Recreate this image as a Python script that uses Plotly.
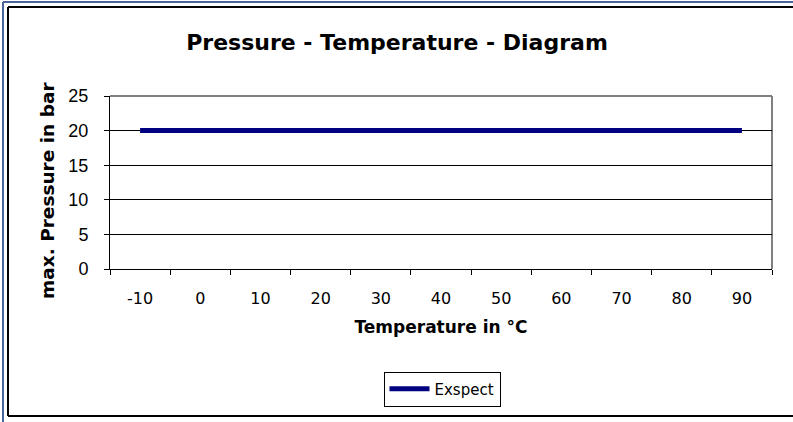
import plotly.graph_objects as go

temperatures = ["-10", "0", "10", "20", "30", "40", "50", "60", "70", "80", "90"]
pressure_expect = [20, 20, 20, 20, 20, 20, 20, 20, 20, 20, 20]

W, H = 793, 422
L, R, T, B = 110, 772, 96, 269

def px(x):
    return (x - L) / (R - L)

def py(y):
    return (B - y) / (B - T)

fig = go.Figure()
fig.add_trace(go.Scatter(
    x=temperatures, y=pressure_expect, mode="lines", name="Exspect",
    line=dict(color="#000080", width=5), showlegend=True,
))

shapes = [
    # outer blue frame
    dict(type="line", xref="paper", yref="paper", x0=px(3), x1=px(800), y0=py(2), y1=py(2),
         line=dict(color="#4A659C", width=2)),
    dict(type="line", xref="paper", yref="paper", x0=px(3), x1=px(3), y0=py(2), y1=py(430),
         line=dict(color="#4A659C", width=2)),
    # inner black frame
    dict(type="line", xref="paper", yref="paper", x0=px(8), x1=px(800), y0=py(7), y1=py(7),
         line=dict(color="#000000", width=2)),
    dict(type="line", xref="paper", yref="paper", x0=px(8), x1=px(8), y0=py(7), y1=py(416),
         line=dict(color="#000000", width=2)),
    dict(type="line", xref="paper", yref="paper", x0=px(8), x1=px(800), y0=py(416), y1=py(416),
         line=dict(color="#000000", width=2)),
    # plot area border (gray top/right)
    dict(type="line", xref="paper", yref="paper", x0=0, x1=1, y0=1, y1=1,
         line=dict(color="#808080", width=2), layer="below"),
    dict(type="line", xref="paper", yref="paper", x0=1, x1=1, y0=0, y1=1,
         line=dict(color="#808080", width=2), layer="below"),
]

fig.update_layout(
    width=W, height=H,
    margin=dict(l=L, r=W - R, t=T, b=H - B),
    paper_bgcolor="white", plot_bgcolor="white",
    title=dict(text="<b>Pressure - Temperature - Diagram</b>", x=397 / W, xanchor="center",
               y=1 - 42 / H, yanchor="middle",
               font=dict(family="DejaVu Sans", size=22, color="black")),
    xaxis=dict(
        type="category", tickson="boundaries", range=[-0.5, 10.5],
        showline=True, linecolor="black", linewidth=1,
        ticks="outside", ticklen=5, tickcolor="black",
        showgrid=False, zeroline=False,
        tickfont=dict(family="DejaVu Sans", size=16, color="black"),
        ticklabelstandoff=15,
        title=dict(text="<b>Temperature in °C</b>", standoff=13,
                   font=dict(family="DejaVu Sans", size=17, color="black")),
    ),
    yaxis=dict(
        range=[0, 25], dtick=5, tick0=0,
        showline=True, linecolor="black", linewidth=1,
        ticks="outside", ticklen=5, tickcolor="black",
        showgrid=True, gridcolor="black", gridwidth=1, zeroline=False,
        tickfont=dict(family="Liberation Sans, Arial", size=18, color="black"),
        ticklabelstandoff=12,
    ),
    annotations=[dict(
        text="<b>max. Pressure in bar</b>", xref="paper", yref="paper",
        x=px(47), y=py(191), xanchor="center", yanchor="middle", textangle=-90,
        showarrow=False, font=dict(family="DejaVu Sans", size=18.5, color="black"),
    )],
    legend=dict(
        x=px(442), y=py(389), xanchor="center", yanchor="middle",
        bordercolor="black", borderwidth=1, bgcolor="white",
        font=dict(family="DejaVu Sans", size=15, color="black"),
        itemwidth=40,
    ),
    shapes=shapes,
)

fig.write_html("out.html", config={"displayModeBar": False},
               post_script="document.body.style.margin='0';document.body.style.padding='0';")
